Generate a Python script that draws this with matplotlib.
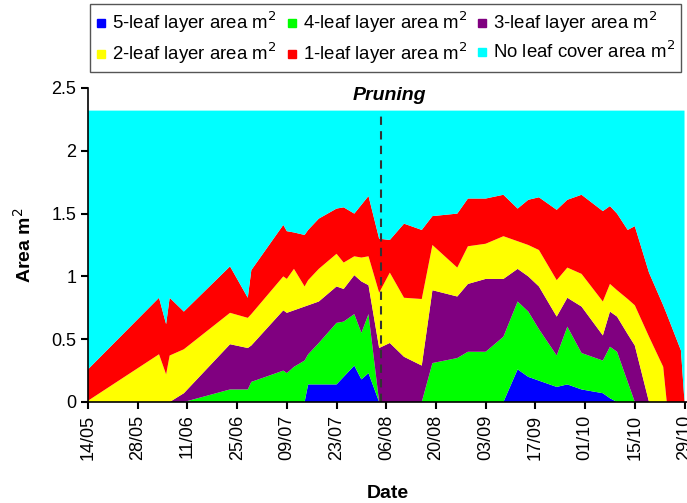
import numpy as np
import pandas as pd
import matplotlib
matplotlib.use("Agg")
import matplotlib.pyplot as plt
import matplotlib.dates as mdates
from matplotlib.lines import Line2D

plt.rcParams['font.family'] = ['Liberation Sans', 'DejaVu Sans']

# sampling dates (day/month of the season)
dates = ['05-14', '06-03', '06-05', '06-06', '06-10', '06-23', '06-28', '06-29',
         '07-08', '07-09', '07-11', '07-14', '07-15', '07-18', '07-23', '07-25',
         '07-28', '07-30', '08-01', '08-04', '08-07', '08-11', '08-16', '08-19',
         '08-26', '08-29', '09-03', '09-08', '09-12', '09-15', '09-18', '09-23',
         '09-26', '09-30', '10-06', '10-08', '10-10', '10-13', '10-15', '10-19',
         '10-23', '10-24', '10-28', '10-29']

# area per leaf layer (m2)
leaf5 = [0, 0, 0, 0, 0, 0, 0, 0, 0, 0, 0, 0, 0.14, 0.14, 0.14, 0.20,
         0.29, 0.18, 0.23, 0, 0, 0, 0, 0, 0, 0, 0, 0, 0.26, 0.20, 0.17, 0.12,
         0.14, 0.10, 0.07, 0.03, 0, 0, 0, 0, 0, 0, 0, 0]
leaf4 = [0, 0, 0, 0, 0, 0.10, 0.10, 0.16, 0.25, 0.23, 0.28, 0.33, 0.24, 0.33, 0.49, 0.44,
         0.41, 0.37, 0.47, 0, 0, 0, 0, 0.31, 0.35, 0.40, 0.40, 0.52, 0.54, 0.52, 0.41, 0.25,
         0.46, 0.29, 0.26, 0.41, 0.40, 0.16, 0, 0, 0, 0, 0, 0]
leaf3 = [0, 0, 0, 0, 0.07, 0.36, 0.33, 0.29, 0.48, 0.48, 0.45, 0.43, 0.39, 0.33, 0.29, 0.26,
         0.31, 0.41, 0.23, 0.43, 0.47, 0.36, 0.29, 0.58, 0.49, 0.54, 0.58, 0.46, 0.26, 0.28, 0.34, 0.31,
         0.23, 0.37, 0.20, 0.28, 0.28, 0.38, 0.45, 0, 0, 0, 0, 0]
leaf2 = [0.01, 0.38, 0.22, 0.37, 0.35, 0.25, 0.24, 0.25, 0.27, 0.27, 0.33, 0.16, 0.20, 0.26, 0.26, 0.21,
         0.15, 0.19, 0.23, 0.44, 0.56, 0.47, 0.53, 0.36, 0.23, 0.30, 0.28, 0.34, 0.22, 0.25, 0.29, 0.29,
         0.24, 0.26, 0.27, 0.22, 0.21, 0.28, 0.32, 0.52, 0.28, 0, 0, 0]
leaf1 = [0.25, 0.45, 0.40, 0.46, 0.30, 0.37, 0.16, 0.35, 0.41, 0.38, 0.29, 0.41, 0.40, 0.40, 0.36, 0.44,
         0.34, 0.42, 0.48, 0.43, 0.26, 0.59, 0.55, 0.23, 0.43, 0.38, 0.36, 0.33, 0.26, 0.36, 0.42, 0.56,
         0.54, 0.63, 0.72, 0.62, 0.61, 0.55, 0.63, 0.51, 0.49, 0.70, 0.41, 0]
no_leaf = [2.06, 1.49, 1.70, 1.49, 1.60, 1.24, 1.49, 1.27, 0.91, 0.96, 0.97, 0.99, 0.95, 0.86, 0.78, 0.77,
           0.82, 0.75, 0.68, 1.02, 1.03, 0.90, 0.95, 0.84, 0.82, 0.70, 0.70, 0.67, 0.78, 0.71, 0.69, 0.79,
           0.71, 0.67, 0.80, 0.76, 0.82, 0.95, 0.92, 1.29, 1.55, 1.62, 1.91, 2.32]

labels = ['5-leaf layer area m$^2$', '4-leaf layer area m$^2$', '3-leaf layer area m$^2$',
          '2-leaf layer area m$^2$', '1-leaf layer area m$^2$', 'No leaf cover area m$^2$']
colours = ['#0000ff', '#00ff00', '#800080', '#ffff00', '#ff0000', '#00ffff']

year = '2007-'
x = pd.to_datetime([year + d for d in dates])
start = pd.Timestamp(year + '05-14')
pruning = pd.Timestamp(year + '08-04 12:00')

fig = plt.figure(figsize=(6.87, 5.03), dpi=100)
ax = fig.add_axes([88/687, 1 - 402/503, 599/687, 314/503])

ax.stackplot(x, leaf5, leaf4, leaf3, leaf2, leaf1, no_leaf, colors=colours, linewidth=0)

ax.plot([pruning, pruning], [0, 2.32], color='#333333', linestyle=(0, (4, 3)), linewidth=1.5)
ax.text(pruning + pd.Timedelta(days=2.5), 2.44, 'Pruning', ha='center', va='center',
        fontsize=14, fontweight='bold', style='italic')

ax.set_xlim(start, start + pd.Timedelta(days=168.7))
ax.set_ylim(0, 2.5)

xt = pd.date_range(start, periods=13, freq='14D')
ax.set_xticks(xt)
ax.xaxis.set_major_formatter(mdates.DateFormatter('%d/%m'))
plt.setp(ax.get_xticklabels(), rotation=90)
ax.set_yticks(np.arange(0, 2.51, 0.5))
ax.yaxis.set_major_formatter(plt.FuncFormatter(lambda v, p: '%g' % v))
ax.tick_params(axis='both', labelsize=13, direction='out', length=5, width=1.5)
ax.tick_params(axis='x', pad=4)

for s in ['top', 'right']:
    ax.spines[s].set_visible(False)
for s in ['left', 'bottom']:
    ax.spines[s].set_linewidth(1.2)

ax.set_xlabel('Date', fontsize=14, fontweight='bold', labelpad=18)
ax.set_ylabel('Area m$^2$', fontsize=14, fontweight='bold', labelpad=12)

handles = [Line2D([], [], marker='s', linestyle='none', markersize=6,
                  markerfacecolor=c, markeredgecolor=c) for c in colours]
order = [0, 3, 1, 4, 2, 5]
fig.legend([handles[i] for i in order], [labels[i] for i in order], ncol=3,
           loc='upper left', bbox_to_anchor=(90/687, 1 - 4/503), borderaxespad=0,
           fontsize=13.4, frameon=True, fancybox=False, edgecolor='#555555',
           framealpha=1, handlelength=0.6, handletextpad=0.3, columnspacing=0.5,
           borderpad=0.3, labelspacing=0.3)

fig.savefig('out.png', dpi=100)
